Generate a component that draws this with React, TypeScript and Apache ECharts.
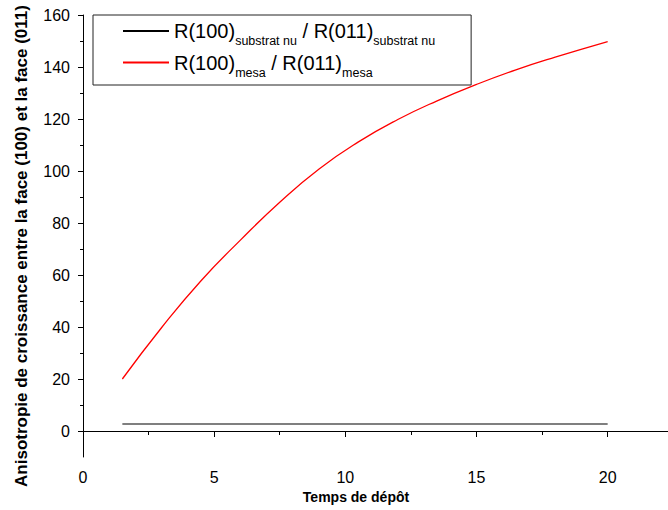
import React, { useEffect, useRef } from "react";
import * as echarts from "echarts";

const redX = [1.5, 3.0, 4.5, 6.0, 7.5, 9.0, 10.5, 12.0, 13.5, 15.0, 16.5, 18.0, 20.0];
const redY = [20.0, 39.8, 57.8, 73.4, 88.0, 100.8, 111.2, 119.8, 127.0, 133.3, 138.9, 143.8, 149.8];
const blackX = [1.5, 20.0];
const blackY = [2.7, 2.7];

const xMajor = [0, 5, 10, 15, 20];
const xMinor = [2.5, 7.5, 12.5, 17.5];
const yMajor = [0, 20, 40, 60, 80, 100, 120, 140, 160];
const yMinor = [10, 30, 50, 70, 90, 110, 130, 150];

const nameBlack = "R(100)substrat nu / R(011)substrat nu";
const nameRed = "R(100)mesa / R(011)mesa";

const FONT = "Liberation Sans, Arial, sans-serif";

export default function App() {
  const ref = useRef<HTMLDivElement>(null);
  useEffect(() => {
    if (!ref.current) return;
    const chart = echarts.init(ref.current, null, { renderer: "svg" });
    const zip = (xs: number[], ys: number[]) => xs.map((x, i) => [x, ys[i]]);
    const axisCommon = {
      type: "value" as const,
      splitLine: { show: false },
    };
    chart.setOption({
      animation: false,
      textStyle: { fontFamily: FONT, color: "#000" },
      grid: { left: 83, right: 0, top: 15, bottom: 53 },
      legend: {
        left: 93,
        top: 15,
        orient: "vertical",
        data: [nameBlack, nameRed],
        borderColor: "#222",
        borderWidth: 1,
        padding: [6, 36, 6, 29],
        itemWidth: 46,
        itemHeight: 14,
        itemGap: 5,
        itemStyle: { opacity: 0 },
        formatter: (n: string) =>
          n === nameBlack
            ? "{r|R(100)}{s|substrat nu}{r| / R(011)}{s|substrat nu}"
            : "{r|R(100)}{s|mesa}{r| / R(011)}{s|mesa}",
        textStyle: {
          color: "#000",
          fontFamily: FONT,
          rich: {
            r: { fontSize: 20, lineHeight: 32, verticalAlign: "middle", fontFamily: FONT, color: "#000" },
            s: { fontSize: 12.5, lineHeight: 12, height: 12, verticalAlign: "bottom", fontFamily: FONT, color: "#000" },
          },
        },
      },
      xAxis: [
        {
          ...axisCommon,
          position: "bottom",
          min: 0,
          max: 22.3,
          name: "Temps de dépôt",
          nameLocation: "middle",
          nameGap: 32,
          nameTextStyle: { fontSize: 14, fontWeight: "bold", fontFamily: FONT, color: "#000", padding: [0, 39, 0, 0] },
          axisLine: { lineStyle: { color: "#000", width: 1 } },
          axisTick: { customValues: xMajor, length: 6, lineStyle: { color: "#000" } },
          axisLabel: { customValues: xMajor, fontSize: 16, color: "#000", margin: 12, fontFamily: FONT },
        },
        {
          ...axisCommon,
          position: "bottom",
          min: 0,
          max: 22.3,
          axisLine: { show: false },
          axisTick: { customValues: xMinor, length: 4, lineStyle: { color: "#000" } },
          axisLabel: { show: false },
        },
      ],
      yAxis: [
        {
          ...axisCommon,
          position: "left",
          min: -10,
          max: 160,
          name: "Anisotropie de croissance entre la face (100) et la face (011)",
          nameLocation: "middle",
          nameGap: 53,
          nameTextStyle: { fontSize: 17, fontWeight: "bold", fontFamily: FONT, color: "#000", padding: [0, 20, 0, 0] },
          axisLine: { show: true, lineStyle: { color: "#000", width: 1 } },
          axisTick: { customValues: yMajor, length: 5, lineStyle: { color: "#000" } },
          axisLabel: { customValues: yMajor, fontSize: 16, color: "#000", margin: 13, fontFamily: FONT },
        },
        {
          ...axisCommon,
          position: "left",
          min: -10,
          max: 160,
          axisLine: { show: false },
          axisTick: { show: true, customValues: yMinor, length: 3, lineStyle: { color: "#000" } },
          axisLabel: { show: false },
        },
      ],
      series: [
        {
          name: nameBlack,
          type: "line",
          xAxisIndex: 0,
          yAxisIndex: 0,
          symbol: "none",
          data: zip(blackX, blackY),
          lineStyle: { color: "#000", width: 1.1 },
          itemStyle: { color: "#000" },
        },
        {
          name: nameRed,
          type: "line",
          xAxisIndex: 0,
          yAxisIndex: 0,
          symbol: "none",
          smooth: 0.5,
          data: zip(redX, redY),
          lineStyle: { color: "#ff0000", width: 1.3 },
          itemStyle: { color: "#ff0000" },
        },
      ],
    });
    return () => chart.dispose();
  }, []);
  return <div ref={ref} style={{ position: "absolute", left: 0, top: 0, width: 668, height: 510 }} />;
}
